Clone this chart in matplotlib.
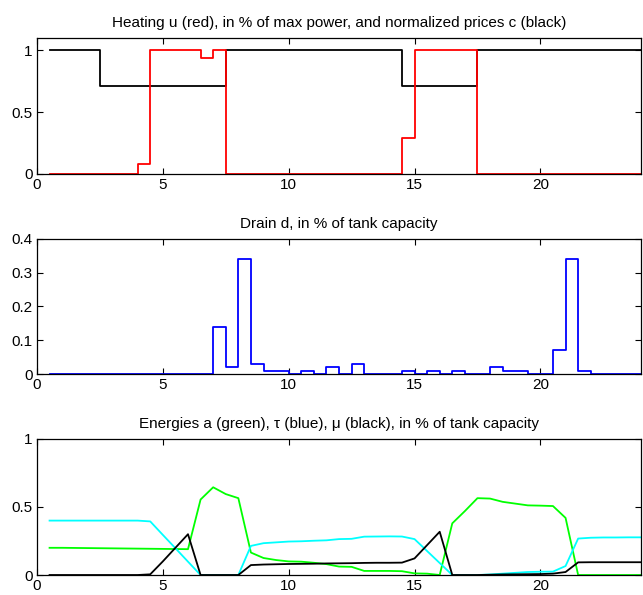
import matplotlib
matplotlib.use('Agg')
import matplotlib.pyplot as plt
import numpy as np

plt.rcParams['font.family'] = ['Liberation Sans', 'DejaVu Sans']

# time grid, half-hour steps
t = np.arange(0.5, 24.5, 0.5)

# normalized prices c and heating u
c = [1, 1, 1, 1,
     0.71, 0.71, 0.71, 0.71, 0.71, 0.71, 0.71, 0.71, 0.71, 0.71,
     1, 1, 1, 1, 1, 1, 1, 1, 1, 1, 1, 1, 1, 1,
     0.71, 0.71, 0.71, 0.71, 0.71, 0.71,
     1, 1, 1, 1, 1, 1, 1, 1, 1, 1, 1, 1, 1, 1]
u = [0, 0, 0, 0, 0, 0, 0, 0.08,
     1, 1, 1, 1, 0.94, 1,
     0, 0, 0, 0, 0, 0, 0, 0, 0, 0, 0, 0, 0, 0,
     0.29, 1, 1, 1, 1, 1,
     0, 0, 0, 0, 0, 0, 0, 0, 0, 0, 0, 0, 0, 0]

# drain d
d = [0, 0, 0, 0, 0, 0, 0, 0, 0, 0, 0, 0, 0,
     0.14, 0.02, 0.34, 0.03, 0.01, 0.01, 0, 0.01, 0, 0.02, 0, 0.03,
     0, 0, 0, 0.01, 0, 0.01, 0, 0.01, 0, 0, 0.02, 0.01, 0.01, 0, 0,
     0.07, 0.34, 0.01, 0, 0, 0, 0, 0]

# energies a (green), tau (cyan), mu (black)
a = [0.20, 0.20, 0.199, 0.198, 0.197, 0.196, 0.195, 0.194, 0.193, 0.192, 0.191, 0.19,
     0.555, 0.645, 0.595, 0.565, 0.165, 0.125, 0.11, 0.10, 0.098, 0.09, 0.08, 0.062,
     0.06, 0.03, 0.03, 0.03, 0.028, 0.012, 0.01, 0.0, 0.38, 0.47, 0.565, 0.562,
     0.538, 0.525, 0.512, 0.51, 0.507, 0.42, 0.0, 0, 0, 0, 0, 0]
tau = [0.40, 0.40, 0.40, 0.40, 0.40, 0.40, 0.40, 0.40,
       0.394, 0.295, 0.197, 0.098, 0, 0, 0, 0,
       0.214, 0.234, 0.24, 0.246, 0.248, 0.252, 0.255, 0.264, 0.266, 0.282, 0.283,
       0.284, 0.283, 0.264,
       0.176, 0.088, 0, 0, 0,
       0.004, 0.01, 0.016, 0.022, 0.024, 0.025, 0.066,
       0.268, 0.274, 0.276, 0.276, 0.277, 0.277]
mu = [0, 0, 0, 0, 0, 0, 0, 0, 0.005,
      0.1, 0.2, 0.3,
      0, 0, 0, 0,
      0.073, 0.077, 0.079, 0.081, 0.082, 0.083, 0.085, 0.086, 0.087, 0.089, 0.09,
      0.09, 0.091,
      0.122, 0.22, 0.318,
      0, 0, 0,
      0.002, 0.004, 0.005, 0.006, 0.007, 0.01, 0.022,
      0.093, 0.094, 0.094, 0.094, 0.094, 0.094]

titles = ['Heating u (red), in % of max power, and normalized prices c (black)',
          'Drain d, in % of tank capacity',
          'Energies a (green), \u03c4 (blue), \u03bc (black), in % of tank capacity']

fig = plt.figure(figsize=(6.43, 5.95), dpi=100)
ax1 = fig.add_axes([0.0575, 0.7076, 0.9395, 0.2286])
ax2 = fig.add_axes([0.0575, 0.3714, 0.9395, 0.2270])
ax3 = fig.add_axes([0.0575, 0.0336, 0.9395, 0.2286])

lw = 1.3
ax1.step(t, c, where='post', color='black', lw=lw)
ax1.step(t, u, where='post', color='red', lw=lw)
ax1.set_ylim(0, 1.1)
ax1.set_yticks([0, 0.5, 1])
ax1.set_yticklabels(['0', '0.5', '1'])

ax2.step(t, d, where='post', color='blue', lw=lw)
ax2.set_ylim(0, 0.4)
ax2.set_yticks([0, 0.1, 0.2, 0.3, 0.4])
ax2.set_yticklabels(['0', '0.1', '0.2', '0.3', '0.4'])

ax3.plot(t, a, color=(0, 1, 0), lw=lw)
ax3.plot(t, tau, color=(0, 1, 1), lw=lw)
ax3.plot(t, mu, color='black', lw=lw)
ax3.set_ylim(0, 1)
ax3.set_yticks([0, 0.5, 1])
ax3.set_yticklabels(['0', '0.5', '1'])

for ax, title in zip([ax1, ax2, ax3], titles):
    ax.set_xlim(0, 24)
    ax.set_xticks([0, 5, 10, 15, 20])
    ax.set_title(title, fontsize=11, pad=8)
    ax.tick_params(direction='in', top=True, right=True, length=4.5, width=0.8,
                   labelsize=11, pad=3)
    for s in ax.spines.values():
        s.set_linewidth(0.9)

fig.savefig('out.png', dpi=100)
